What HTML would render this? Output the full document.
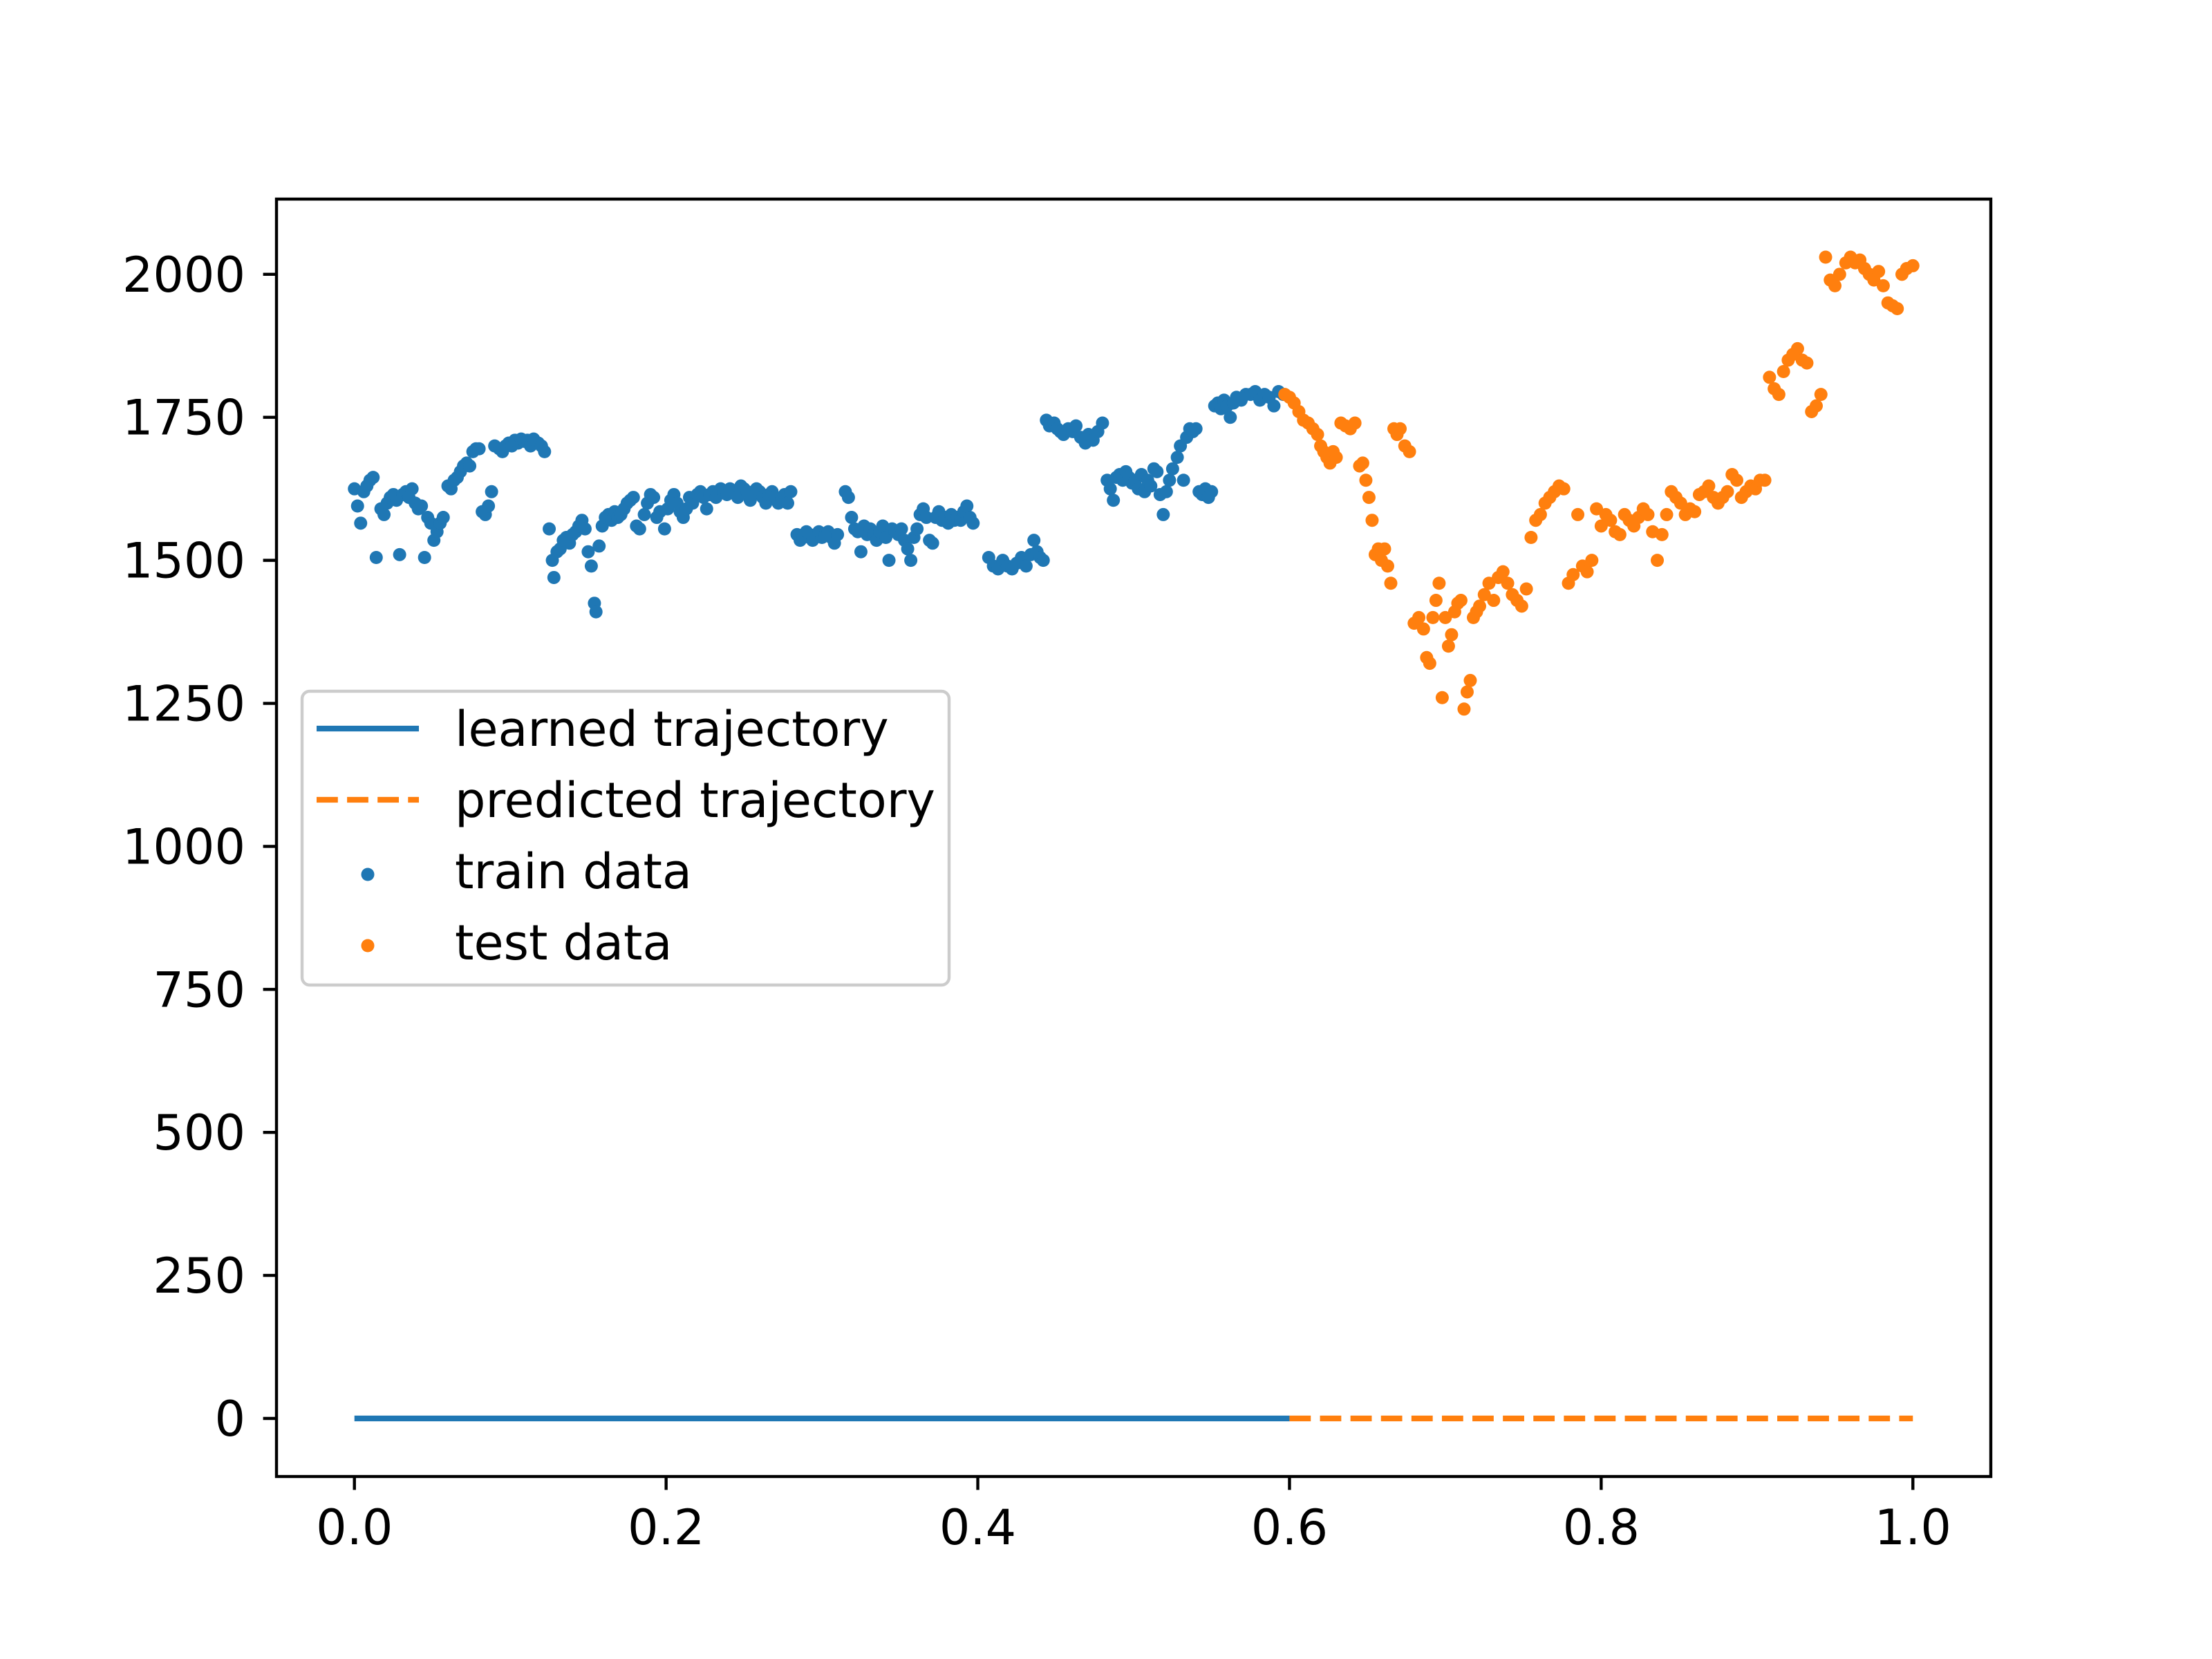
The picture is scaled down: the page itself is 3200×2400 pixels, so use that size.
<!DOCTYPE html>
<html><head><meta charset="utf-8"><style>
html,body{margin:0;padding:0;background:#fff}
svg{display:block}
text{font-family:"DejaVu Sans","Liberation Sans",sans-serif;font-size:70px;fill:#000}
</style></head><body>
<svg id="chart" width="3200" height="2400" viewBox="0 0 3200 2400" xmlns="http://www.w3.org/2000/svg">
<rect width="3200" height="2400" fill="#fff"/>
<g id="marks"></g>
<g id="axes"></g>
<g id="legend"></g>
</svg>
<script>
const trainX = [0.000,0.002,0.004,0.006,0.008,0.010,0.012,0.014,0.017,0.019,0.021,0.023,0.025,0.027,0.029,0.031,0.033,0.035,0.037,0.039,0.041,0.043,0.045,0.047,0.049,0.051,0.053,0.055,0.057,0.060,0.062,0.064,0.066,0.068,0.070,0.072,0.074,0.076,0.078,0.080,0.082,0.084,0.086,0.088,0.090,0.093,0.095,0.097,0.099,0.101,0.103,0.105,0.107,0.109,0.111,0.113,0.115,0.118,0.120,0.122,0.125,0.127,0.128,0.130,0.132,0.134,0.136,0.138,0.140,0.142,0.144,0.146,0.148,0.150,0.152,0.154,0.155,0.157,0.159,0.161,0.163,0.165,0.167,0.169,0.171,0.173,0.175,0.177,0.179,0.181,0.183,0.186,0.188,0.190,0.192,0.194,0.196,0.199,0.201,0.203,0.205,0.207,0.209,0.211,0.213,0.215,0.217,0.220,0.222,0.224,0.226,0.228,0.230,0.232,0.235,0.237,0.239,0.241,0.243,0.246,0.248,0.250,0.252,0.254,0.256,0.258,0.260,0.262,0.264,0.266,0.268,0.270,0.272,0.274,0.276,0.278,0.280,0.284,0.286,0.288,0.290,0.292,0.294,0.296,0.298,0.300,0.302,0.304,0.306,0.308,0.310,0.315,0.317,0.319,0.321,0.323,0.325,0.327,0.329,0.331,0.333,0.335,0.337,0.339,0.341,0.343,0.345,0.347,0.349,0.351,0.353,0.355,0.357,0.359,0.361,0.363,0.365,0.367,0.369,0.371,0.373,0.375,0.377,0.379,0.381,0.383,0.385,0.387,0.389,0.391,0.393,0.395,0.397,0.407,0.410,0.413,0.416,0.419,0.422,0.425,0.428,0.431,0.434,0.436,0.438,0.440,0.442,0.444,0.446,0.449,0.451,0.453,0.455,0.458,0.461,0.463,0.466,0.469,0.471,0.474,0.477,0.480,0.483,0.485,0.487,0.489,0.491,0.493,0.495,0.497,0.499,0.501,0.503,0.505,0.507,0.509,0.511,0.513,0.515,0.517,0.519,0.521,0.523,0.525,0.528,0.530,0.532,0.534,0.536,0.538,0.540,0.542,0.544,0.546,0.548,0.550,0.552,0.554,0.556,0.558,0.560,0.562,0.564,0.566,0.569,0.572,0.575,0.578,0.581,0.584,0.587,0.590,0.593,0.596];
const trainY = [1625,1595,1565,1620,1630,1640,1645,1505,1590,1580,1600,1610,1615,1605,1510,1615,1620,1610,1625,1600,1590,1595,1505,1575,1565,1535,1550,1565,1575,1630,1625,1640,1645,1655,1665,1670,1665,1690,1695,1695,1585,1580,1595,1620,1700,1695,1690,1700,1705,1700,1710,1705,1712,1708,1710,1700,1712,1705,1700,1690,1555,1500,1470,1515,1520,1535,1540,1530,1545,1550,1560,1570,1555,1515,1490,1425,1410,1525,1560,1575,1580,1570,1585,1575,1580,1590,1600,1605,1610,1560,1555,1580,1600,1615,1610,1575,1585,1555,1590,1605,1615,1600,1585,1575,1590,1610,1600,1615,1620,1610,1590,1615,1620,1610,1625,1620,1615,1625,1620,1610,1630,1625,1620,1605,1615,1625,1620,1610,1600,1615,1620,1610,1600,1605,1615,1600,1620,1545,1535,1540,1550,1545,1535,1545,1550,1540,1545,1550,1540,1530,1545,1620,1610,1575,1555,1550,1515,1560,1545,1555,1545,1535,1550,1560,1540,1500,1555,1550,1545,1555,1535,1520,1500,1540,1555,1580,1590,1575,1535,1530,1575,1585,1570,1575,1565,1580,1570,1575,1570,1585,1595,1575,1565,1505,1490,1485,1500,1490,1485,1495,1505,1490,1510,1535,1515,1505,1500,1745,1735,1740,1730,1725,1720,1730,1725,1735,1715,1705,1720,1710,1725,1740,1640,1625,1605,1645,1650,1640,1655,1645,1635,1640,1625,1650,1620,1640,1630,1660,1655,1615,1580,1620,1640,1660,1680,1700,1640,1715,1730,1725,1730,1620,1615,1625,1610,1620,1770,1775,1765,1780,1770,1750,1775,1785,1780,1790,1790,1795,1780,1790,1785,1770,1795,1790,1785,1780];
const testX = [0.597,0.600,0.603,0.606,0.609,0.612,0.615,0.618,0.620,0.622,0.624,0.626,0.628,0.630,0.633,0.636,0.639,0.642,0.645,0.647,0.649,0.651,0.653,0.655,0.657,0.659,0.661,0.663,0.665,0.667,0.669,0.671,0.674,0.677,0.680,0.683,0.686,0.688,0.690,0.692,0.694,0.696,0.698,0.700,0.702,0.704,0.706,0.708,0.710,0.712,0.714,0.716,0.718,0.720,0.722,0.725,0.728,0.731,0.734,0.737,0.740,0.743,0.746,0.749,0.752,0.755,0.758,0.761,0.764,0.767,0.770,0.773,0.776,0.779,0.782,0.785,0.788,0.791,0.794,0.797,0.800,0.803,0.806,0.809,0.812,0.815,0.818,0.821,0.824,0.827,0.830,0.833,0.836,0.839,0.842,0.845,0.848,0.851,0.854,0.857,0.860,0.863,0.866,0.869,0.872,0.875,0.878,0.881,0.884,0.887,0.890,0.893,0.896,0.899,0.902,0.905,0.908,0.911,0.914,0.917,0.920,0.923,0.926,0.929,0.932,0.935,0.938,0.941,0.944,0.947,0.950,0.953,0.957,0.960,0.963,0.966,0.969,0.972,0.975,0.978,0.981,0.984,0.987,0.990,0.993,0.996,1.000];
const testY = [1790,1785,1775,1760,1745,1740,1730,1720,1700,1690,1680,1670,1690,1680,1740,1735,1730,1740,1665,1670,1640,1610,1570,1510,1520,1500,1520,1490,1460,1730,1720,1730,1700,1690,1390,1400,1380,1330,1320,1400,1430,1460,1260,1400,1350,1370,1410,1425,1430,1240,1270,1290,1400,1410,1420,1440,1460,1430,1470,1480,1460,1440,1430,1420,1450,1540,1570,1580,1600,1610,1620,1630,1625,1460,1475,1580,1490,1480,1500,1590,1560,1580,1570,1550,1545,1580,1570,1560,1575,1590,1580,1550,1500,1545,1580,1620,1610,1600,1580,1590,1585,1615,1620,1630,1610,1600,1610,1620,1650,1640,1610,1620,1630,1625,1640,1640,1820,1800,1790,1830,1850,1860,1870,1850,1845,1760,1770,1790,2030,1990,1980,2000,2020,2030,2020,2025,2010,2000,1990,2005,1980,1950,1945,1940,2000,2010,2015];
const xTicks = [0.0,0.2,0.4,0.6,0.8,1.0];
const xTickLabels = ["0.0","0.2","0.4","0.6","0.8","1.0"];
const yTicks = [0,250,500,750,1000,1250,1500,1750,2000];
const yTickLabels = ["0","250","500","750","1000","1250","1500","1750","2000"];
const trajStart = 0, trajSplit = 0.6, trajEnd = 1.0, trajValue = 0;

const NS = "http://www.w3.org/2000/svg";
const L = 400, R = 2880, T = 288, B = 2136;
const X0 = -0.05, X1 = 1.05;
const allY = trainY.concat(testY, [trajValue]);
const yMaxD = Math.max(...allY), yMinD = Math.min(...allY);
const Y0 = yMinD - 0.05*(yMaxD - yMinD), Y1 = yMaxD + 0.05*(yMaxD - yMinD);
const sx = v => L + (v - X0)/(X1 - X0)*(R - L);
const sy = v => B - (v - Y0)/(Y1 - Y0)*(B - T);
function mk(tag, attrs, parent){const e=document.createElementNS(NS,tag);for(const k in attrs)e.setAttribute(k,attrs[k]);parent.appendChild(e);return e;}
const marks = document.getElementById('marks');
const axes = document.getElementById('axes');
const legend = document.getElementById('legend');

let l1 = mk('line',{x1:sx(trajStart),x2:sx(trajSplit),y1:sy(trajValue),y2:sy(trajValue),stroke:'#1f77b4','stroke-width':8.3},marks);


let l2 = mk('line',{x1:sx(trajSplit),x2:sx(trajEnd),y1:sy(trajValue),y2:sy(trajValue),stroke:'#ff7f0e','stroke-width':8.3,'stroke-dasharray':'30.8 13.3'},marks);



const nTrain = Math.min(trainX.length, trainY.length);
for(let i=0;i<nTrain;i++){
  const c = mk('circle',{cx:sx(trainX[i]),cy:sy(trainY[i]),r:9.5,fill:'#1f77b4'},marks);
  
  
}
const nTest = Math.min(testX.length, testY.length);
for(let i=0;i<nTest;i++){
  const c = mk('circle',{cx:sx(testX[i]),cy:sy(testY[i]),r:9.5,fill:'#ff7f0e'},marks);
  
  
}

const frame = mk('rect',{x:L,y:T,width:R-L,height:B-T,fill:'none',stroke:'#000','stroke-width':4.4},axes);


xTicks.forEach((v,i)=>{
  const x = sx(v);
  const t = mk('line',{x1:x,x2:x,y1:B,y2:B+19.4,stroke:'#000','stroke-width':4.4},axes);
  
  
  const lb = mk('text',{x:x,y:B+98,'text-anchor':'middle'},axes);
  lb.textContent = xTickLabels[i];
  
  
});
yTicks.forEach((v,i)=>{
  const y = sy(v);
  const t = mk('line',{x1:L-19.4,x2:L,y1:y,y2:y,stroke:'#000','stroke-width':4.4},axes);
  
  
  const lb = mk('text',{x:L-45,y:y+25,'text-anchor':'end'},axes);
  lb.textContent = yTickLabels[i];
  
  
});

const lg = mk('rect',{x:437,y:1000,width:936,height:425,rx:11,fill:'#fff','fill-opacity':0.8,stroke:'#cccccc','stroke-width':4.4},legend);


const entries = [
  {label:'learned trajectory', kind:'line', color:'#1f77b4', dash:null, name:'legend-entry-learned'},
  {label:'predicted trajectory', kind:'line', color:'#ff7f0e', dash:'30.8 13.3', name:'legend-entry-predicted'},
  {label:'train data', kind:'dot', color:'#1f77b4', name:'legend-entry-train'},
  {label:'test data', kind:'dot', color:'#ff7f0e', name:'legend-entry-test'}
];
entries.forEach((e,i)=>{
  const y = 1054 + i*103;
  const g = mk('g',{},legend);
  
  
  if(e.kind==='line'){
    const a={x1:458,x2:606,y1:y,y2:y,stroke:e.color,'stroke-width':8.3};
    if(e.dash)a['stroke-dasharray']=e.dash;
    mk('line',a,g);
  } else {
    mk('circle',{cx:532,cy:y+5,r:9.5,fill:e.color},g);
  }
  const t = mk('text',{x:658,y:y+25},g);
  t.textContent = e.label;
});
</script>
</body></html>
